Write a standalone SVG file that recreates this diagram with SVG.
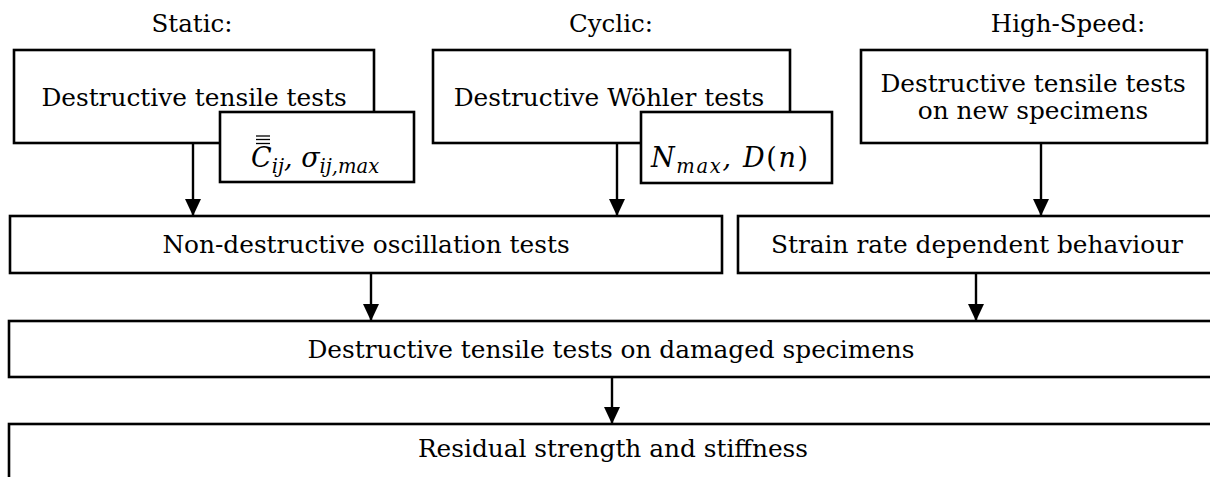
<svg xmlns="http://www.w3.org/2000/svg" width="1210" height="477" viewBox="0 0 1210 477">
  <defs>
    <style>
      .box { fill: #ffffff; stroke: #000000; stroke-width: 2.6; }
      .t { font-family: "DejaVu Serif", "Liberation Serif", serif; font-size: 24.8px; fill: #000000; }
      .h { font-family: "DejaVu Serif", "Liberation Serif", serif; font-size: 24.5px; fill: #000000; text-anchor: middle; }
      .c { text-anchor: middle; }
      .m { font-family: "DejaVu Serif", "Liberation Serif", serif; font-style: italic; font-size: 27px; fill: #000000; }
      .ms { font-size: 19.5px; }
      .mu { font-style: normal; }
      .conn { stroke: #000000; stroke-width: 2.4; fill: none; marker-end: url(#arrow); }
      .bar { stroke: #000000; stroke-width: 1.3; }
    </style>
    <marker id="arrow" viewBox="0 0 17 16" refX="17" refY="8" markerWidth="17" markerHeight="16" markerUnits="userSpaceOnUse" orient="auto">
      <path d="M0,0 L17,8 L0,16 z" fill="#000000"/>
    </marker>
  </defs>
  <rect width="1210" height="477" fill="#ffffff"/>

  <g id="headers">
    <text class="h" x="192" y="32">Static:</text>
    <text class="h" x="611" y="32">Cyclic:</text>
    <text class="h" x="1068" y="32">High-Speed:</text>
  </g>

  <g id="connectors">
    <line class="conn" x1="193" y1="143" x2="193" y2="216"/>
    <line class="conn" x1="617" y1="143" x2="617" y2="216"/>
    <line class="conn" x1="1041" y1="143" x2="1041" y2="216"/>
    <line class="conn" x1="371" y1="273" x2="371" y2="321"/>
    <line class="conn" x1="976" y1="273" x2="976" y2="321"/>
    <line class="conn" x1="612" y1="377" x2="612" y2="424"/>
  </g>

  <g id="static-tests">
    <rect class="box" x="14" y="50" width="360" height="93"/>
    <text class="t c" x="194" y="106">Destructive tensile tests</text>
  </g>
  <g id="static-result">
    <rect class="box" x="220" y="112" width="194" height="70"/>
    <line class="bar" x1="256" y1="136" x2="270" y2="136"/>
    <line class="bar" x1="256" y1="139.5" x2="270" y2="139.5"/>
    <line class="bar" x1="256" y1="143.5" x2="270" y2="143.5"/>
    <text class="m" x="251" y="167">C<tspan class="ms" dy="6">ij</tspan><tspan dy="-6">, σ</tspan><tspan class="ms" dy="6">ij,max</tspan></text>
  </g>

  <g id="cyclic-tests">
    <rect class="box" x="433" y="50" width="357" height="93"/>
    <text class="t c" x="609" y="106">Destructive Wöhler tests</text>
  </g>
  <g id="cyclic-result">
    <rect class="box" x="641" y="112" width="191" height="71"/>
    <text class="m" x="651" y="167" textLength="157" lengthAdjust="spacing">N<tspan class="ms" dy="6">max</tspan><tspan dy="-6">, D</tspan><tspan class="mu">(</tspan>n<tspan class="mu">)</tspan></text>
  </g>

  <g id="highspeed-tests">
    <rect class="box" x="861" y="50" width="346" height="93"/>
    <text class="t c" x="1033" y="92">Destructive tensile tests</text>
    <text class="t c" x="1033" y="119">on new specimens</text>
  </g>

  <g id="oscillation-tests">
    <rect class="box" x="10" y="216" width="712" height="57"/>
    <text class="t c" x="366" y="253">Non-destructive oscillation tests</text>
  </g>

  <g id="strain-rate">
    <rect class="box" x="738" y="216" width="500" height="57"/>
    <text class="t c" x="977" y="253">Strain rate dependent behaviour</text>
  </g>

  <g id="damaged-tests">
    <rect class="box" x="9" y="321" width="1230" height="56"/>
    <text class="t c" x="611" y="358">Destructive tensile tests on damaged specimens</text>
  </g>

  <g id="residual">
    <rect class="box" x="9" y="424" width="1230" height="80"/>
    <text class="t c" x="613" y="457">Residual strength and stiffness</text>
  </g>
</svg>
